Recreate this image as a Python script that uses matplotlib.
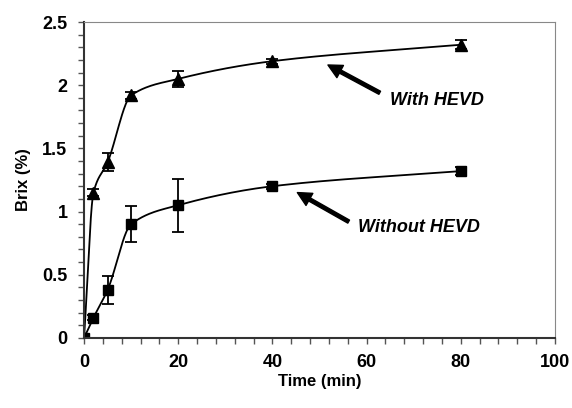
import numpy as np
import matplotlib
matplotlib.use("Agg")
import matplotlib.pyplot as plt

time = [0, 2, 5, 10, 20, 40, 80]
with_hevd = [0.0, 1.15, 1.39, 1.92, 2.05, 2.19, 2.32]
with_err = [0.0, 0.03, 0.07, 0.03, 0.065, 0.02, 0.035]
without_hevd = [0.0, 0.16, 0.38, 0.90, 1.05, 1.20, 1.32]
without_err = [0.0, 0.02, 0.11, 0.145, 0.21, 0.02, 0.03]


def smooth(x, y, n=40):
    # monotone cubic (PCHIP) through the points, no overshoot
    x = np.asarray(x, float)
    y = np.asarray(y, float)
    h = np.diff(x)
    d = np.diff(y) / h
    m = np.zeros_like(y)
    for k in range(1, len(x) - 1):
        if d[k - 1] * d[k] > 0:
            w1 = 2 * h[k] + h[k - 1]
            w2 = h[k] + 2 * h[k - 1]
            m[k] = (w1 + w2) / (w1 / d[k - 1] + w2 / d[k])
    m[0] = d[0]
    m[-1] = d[-1]
    xs, ys = [], []
    t = np.linspace(0, 1, n)
    for k in range(len(x) - 1):
        h00 = 2 * t**3 - 3 * t**2 + 1
        h10 = t**3 - 2 * t**2 + t
        h01 = -2 * t**3 + 3 * t**2
        h11 = t**3 - t**2
        xs.extend(x[k] + t * h[k])
        ys.extend(h00 * y[k] + h10 * h[k] * m[k] + h01 * y[k + 1] + h11 * h[k] * m[k + 1])
    return np.array(xs), np.array(ys)


plt.rcParams["font.family"] = ["Liberation Sans", "DejaVu Sans"]
plt.rcParams["font.weight"] = "bold"

fig = plt.figure(figsize=(5.72, 4.08), dpi=100)
ax = fig.add_axes([0.147, 0.172, 0.823, 0.774])

for y, err, marker, ms in [
    (with_hevd, with_err, "^", 8),
    (without_hevd, without_err, "s", 7),
]:
    sx, sy = smooth(time, y)
    ax.plot(sx, sy, color="black", linewidth=1.3)
    ax.errorbar(time, y, yerr=err, fmt=marker, color="black", markersize=ms,
                ecolor="black", elinewidth=1.3, capsize=4, capthick=1.3)

arrow = dict(facecolor="black", edgecolor="black", width=2.5, headwidth=10,
             headlength=10, shrink=0)
ax.annotate("", xy=(51.8, 2.16), xytext=(62.8, 1.94), arrowprops=arrow)
ax.text(65, 1.88, "With HEVD", fontsize=13, style="italic", fontweight="bold",
        va="center", ha="left")
ax.annotate("", xy=(45.3, 1.15), xytext=(56.2, 0.92), arrowprops=arrow)
ax.text(58.2, 0.87, "Without HEVD", fontsize=13, style="italic", fontweight="bold",
        va="center", ha="left")

ax.set_xlim(0, 100)
ax.set_ylim(0, 2.5)
ax.set_xticks([0, 20, 40, 60, 80, 100])
ax.set_xticks(np.arange(0, 101, 4), minor=True)
ax.set_yticks([0, 0.5, 1, 1.5, 2, 2.5])
ax.set_yticks(np.arange(0, 2.51, 0.1), minor=True)
ax.set_yticklabels(["0", "0.5", "1", "1.5", "2", "2.5"])
ax.tick_params(which="both", direction="out", length=4, width=1, color="#555555",
               labelsize=13, pad=8)
for lab in ax.get_xticklabels() + ax.get_yticklabels():
    lab.set_fontweight("bold")
for side in ["top", "right"]:
    ax.spines[side].set_color("#888888")
for side in ["left", "bottom"]:
    ax.spines[side].set_color("#333333")
    ax.spines[side].set_linewidth(1.5)

ax.set_xlabel("Time (min)", fontsize=12, fontweight="bold", labelpad=2)
ax.set_ylabel("Brix (%)", fontsize=12, fontweight="bold", labelpad=8)

fig.savefig("out.png", dpi=100)
